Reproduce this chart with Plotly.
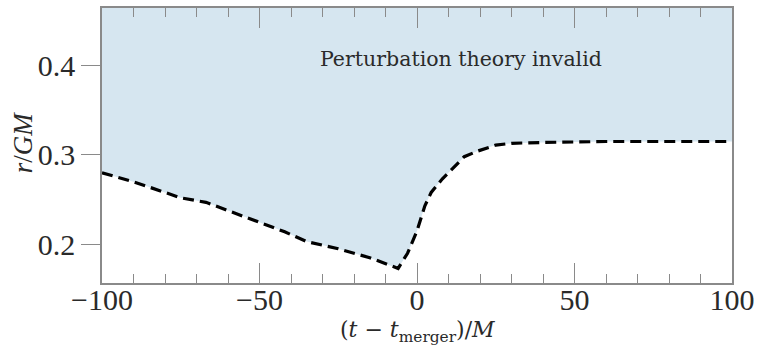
import plotly.graph_objects as go

# Boundary of the region where perturbation theory breaks down
t_minus_tmerger = [-100, -90, -80, -75, -67, -60, -50, -42, -35, -25, -15, -6,
                   -3, 0, 2.5, 4.5, 8, 12, 15, 19, 25, 30, 40, 60, 100]
r_over_gm = [0.280, 0.270, 0.258, 0.252, 0.247, 0.238, 0.225, 0.214, 0.203, 0.195, 0.185, 0.173,
             0.190, 0.215, 0.243, 0.258, 0.273, 0.287, 0.298, 0.304, 0.311, 0.313, 0.314, 0.315, 0.315]

x_ticks = [-100, -50, 0, 50, 100]
y_ticks = [0.2, 0.3, 0.4]
X_RANGE = [-100, 100]
Y_RANGE = [0.1567, 0.4644]

SERIF = "Liberation Serif, Times New Roman, serif"
WIDE_SERIF = "DejaVu Serif, serif"
AXIS_GRAY = "#8a8a8a"
TEXT = "#2a2a2a"
FILL = "#d6e6f0"

fig = go.Figure()

# upper edge of the shaded band (top of the axes)
fig.add_trace(go.Scatter(x=X_RANGE, y=[Y_RANGE[1], Y_RANGE[1]], mode="lines",
                         line=dict(width=0), hoverinfo="skip", showlegend=False))
# shaded "invalid" region down to the boundary
fig.add_trace(go.Scatter(x=t_minus_tmerger, y=r_over_gm, mode="lines",
                         line=dict(width=0), fill="tonexty", fillcolor=FILL,
                         hoverinfo="skip", showlegend=False))
# dashed boundary line
fig.add_trace(go.Scatter(x=t_minus_tmerger, y=r_over_gm, mode="lines",
                         line=dict(color="black", width=3.2, dash="11px,6px"),
                         showlegend=False))

fig.add_annotation(x=13.9, y=0.4078, xref="x", yref="y",
                   text="Perturbation theory invalid", showarrow=False,
                   font=dict(family=WIDE_SERIF, size=20.5, color=TEXT))

# x-axis title
fig.add_annotation(x=0.5, y=-0.178, xref="paper", yref="paper",
                   text="(<i>t</i> − <i>t</i><sub>merger</sub>)/<i>M</i>",
                   showarrow=False, yanchor="middle",
                   font=dict(family=WIDE_SERIF, size=22, color=TEXT))

# y-axis title
fig.add_annotation(x=-0.126, y=0.51, xref="paper", yref="paper", xanchor="center",
                   text="<i>r</i>/<i>GM</i>", textangle=-90, showarrow=False,
                   font=dict(family=SERIF, size=27, color=TEXT))

fig.update_layout(
    width=761, height=351,
    margin=dict(l=102, r=25, t=6, b=68),
    paper_bgcolor="white", plot_bgcolor="white",
    font=dict(family=SERIF, color=TEXT),
    xaxis=dict(range=X_RANGE, tickvals=x_ticks, ticks="inside", ticklen=20,
               tickwidth=1.3, tickcolor=AXIS_GRAY, showline=True, linecolor=AXIS_GRAY,
               linewidth=1.5, mirror="ticks", showgrid=False, zeroline=False,
               ticklabelstandoff=-11,
               tickfont=dict(size=30, family=SERIF, color=TEXT),
               minor=dict(dtick=10, tick0=0, ticks="inside", ticklen=9,
                          tickwidth=1.3, tickcolor=AXIS_GRAY, showgrid=False)),
    yaxis=dict(range=Y_RANGE, tickvals=y_ticks, ticktext=["0.2", "0.3", "0.4"],
               ticks="outside", ticklen=19, tickwidth=1.3, tickcolor=AXIS_GRAY,
               showline=True, linecolor=AXIS_GRAY, linewidth=1.5, mirror=True,
               showgrid=False, zeroline=False,
               tickfont=dict(size=30, family=SERIF, color=TEXT)),
)

fig.write_html("out.html")
